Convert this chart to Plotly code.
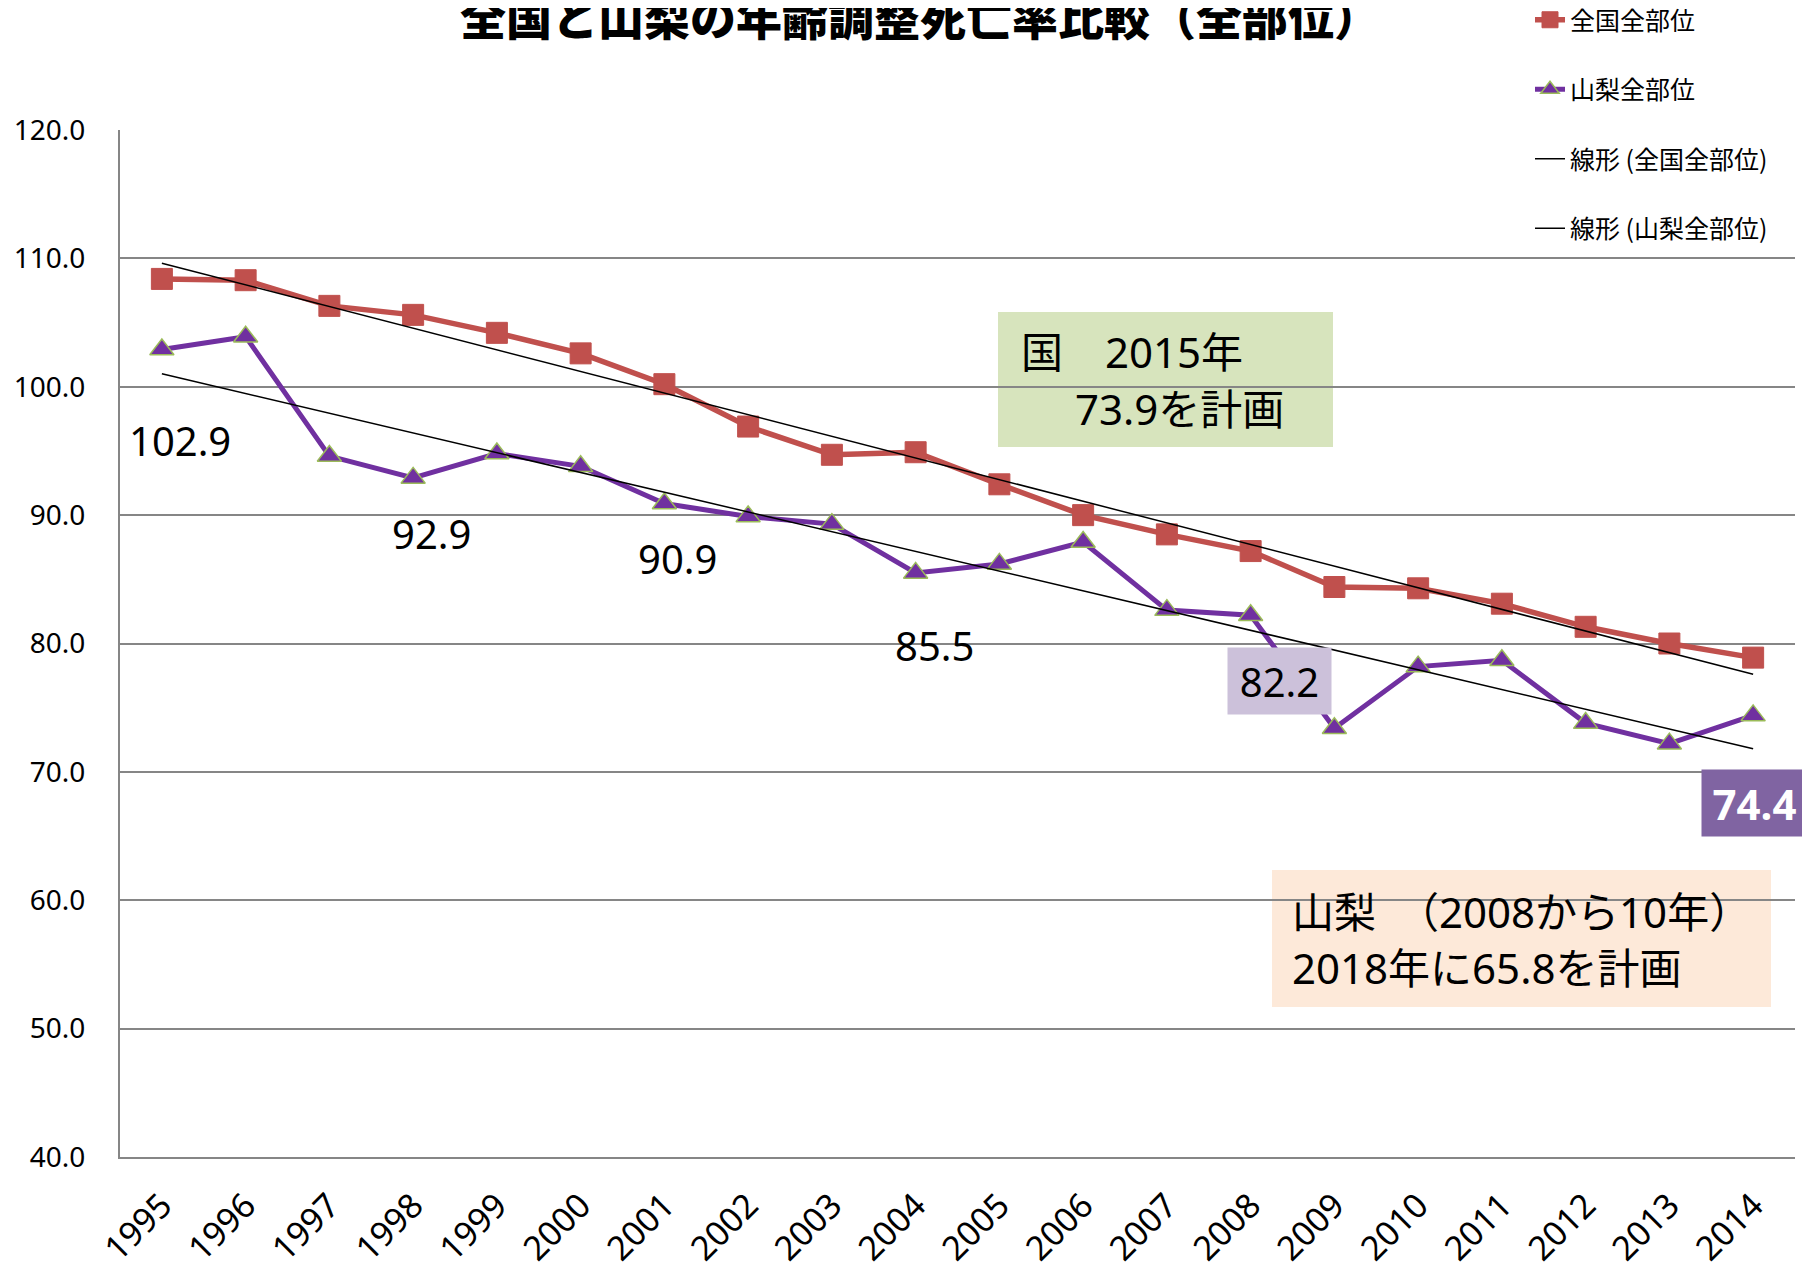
import numpy as np
import plotly.graph_objects as go

# ---------------- data ----------------
years = [str(y) for y in range(1995, 2015)]
national = [108.4, 108.3, 106.3, 105.6, 104.2, 102.6, 100.2, 96.9, 94.7, 94.9,
            92.4, 90.0, 88.5, 87.2, 84.4, 84.3, 83.1, 81.3, 80.0, 78.9]
yamanashi = [102.9, 103.9, 94.6, 92.9, 94.8, 93.8, 90.9, 89.9, 89.3, 85.5,
             86.2, 87.9, 82.6, 82.2, 73.4, 78.2, 78.7, 73.8, 72.2, 74.4]

name_nat = "全国全部位"
name_yam = "山梨全部位"
name_nat_tr = "線形 (全国全部位)"
name_yam_tr = "線形 (山梨全部位)"
title_text = "全国と山梨の年齢調整死亡率比較（全部位）"

y_ticks = [40, 50, 60, 70, 80, 90, 100, 110, 120]

# labelled Yamanashi points
label_years = ["1995", "1998", "2001", "2004", "2008", "2014"]

note_nat = ["国　2015年", "73.9を計画"]
note_yam = ["山梨　（2008から10年）", "2018年に65.8を計画"]

# ---------------- layout helpers ----------------
OFF = 8                      # default page body margin
W, H = 1810 - OFF, 1277 - OFF
ML, MR, MT, MB = 120 - OFF, 15, 130 - OFF, 120
PW, PH = W - ML - MR, H - MT - MB
X0, Y1 = ML + OFF, H + OFF - MB   # plot area in window pixels


def px(x):
    return (x - X0) / PW


def py(y):
    return (Y1 - y) / PH


# linear trends (least squares, like Excel)
idx = np.arange(len(years))
cn = np.polyfit(idx, national, 1)
cy = np.polyfit(idx, yamanashi, 1)
trend_nat = np.polyval(cn, idx)
trend_yam = np.polyval(cy, idx)

LATIN = "Noto Sans, Noto Sans CJK JP, sans-serif"
CJK = "Noto Sans CJK JP, Noto Sans, sans-serif"

fig = go.Figure()
fig.add_trace(go.Scatter(
    x=years, y=national, name=name_nat, mode="lines+markers",
    line=dict(color="#c0504d", width=5.5),
    marker=dict(symbol="square", size=21, color="#c0504d",
                line=dict(color="#c0504d", width=1)),
    legendgroup="a"))
fig.add_trace(go.Scatter(
    x=years, y=yamanashi, name=name_yam, mode="lines+markers",
    line=dict(color="#7030a0", width=5),
    marker=dict(symbol="triangle-up", size=21, color="#7030a0",
                line=dict(color="#9bbb59", width=1.5)),
    legendgroup="b"))
fig.add_trace(go.Scatter(
    x=years, y=trend_nat, name=name_nat_tr, mode="lines",
    line=dict(color="#000000", width=1.5), legendgroup="c"))
fig.add_trace(go.Scatter(
    x=years, y=trend_yam, name=name_yam_tr, mode="lines",
    line=dict(color="#000000", width=1.5), legendgroup="d"))

annotations = []
# value labels on the Yamanashi series
label_style = {
    "1995": dict(xshift=18, yshift=-91, bg=None),
    "1998": dict(xshift=18, yshift=-56, bg=None),
    "2001": dict(xshift=13, yshift=-55, bg=None),
    "2004": dict(xshift=19, yshift=-73, bg=None),
    "2008": dict(xshift=29, yshift=-66, bg="#ccc1da"),
    "2014": dict(xshift=1, yshift=-88, bg="#8064a2"),
}
for yr in label_years:
    i = years.index(yr)
    v = yamanashi[i]
    st = label_style[yr]
    a = dict(x=i, y=v, xref="x", yref="y", text=f"{v:.1f}", showarrow=False,
             xshift=st["xshift"], yshift=st["yshift"],
             xanchor="center", yanchor="middle",
             font=dict(family=LATIN, size=40, color="#000000"))
    if st["bg"] == "#ccc1da":
        a.update(bgcolor="#ccc1da", width=103, height=66, borderpad=0)
    elif st["bg"] == "#8064a2":
        a.update(bgcolor="#8064a2", width=105, height=66, borderpad=0,
                 font=dict(family=LATIN, size=42, color="#ffffff", weight="bold"))
    annotations.append(a)

shapes = [
    dict(type="rect", xref="paper", yref="paper", x0=px(998), x1=px(1333),
         y0=py(447), y1=py(312), fillcolor="#d7e4bd", line=dict(width=0), layer="below"),
    dict(type="rect", xref="paper", yref="paper", x0=px(1272), x1=px(1771),
         y0=py(1007), y1=py(870), fillcolor="#fde9d9", line=dict(width=0), layer="below"),
]

text_pos = [
    (note_nat[0], 1019, 351),
    (note_nat[1], 1073, 408),
    (note_yam[0], 1290, 911),
    (note_yam[1], 1290, 967),
]
for t, x, y in text_pos:
    annotations.append(dict(x=px(x), y=py(y), xref="paper", yref="paper", text=t,
                            showarrow=False, xanchor="left", yanchor="middle",
                            font=dict(family=LATIN, size=42, color="#000000")))

fig.update_layout(
    width=W, height=H,
    margin=dict(l=ML, r=MR, t=MT, b=MB, autoexpand=False),
    paper_bgcolor="#ffffff", plot_bgcolor="#ffffff",
    title=dict(text=title_text, x=(920 - OFF) / W, xanchor="center", xref="container",
               y=1 - 11 / H, yanchor="middle", yref="container",
               font=dict(family=CJK, size=46, color="#000000", weight=900)),
    showlegend=True,
    legend=dict(x=px(1530), xanchor="left", xref="paper",
                y=py(-3), yanchor="top", yref="paper",
                bgcolor="rgba(0,0,0,0)", traceorder="grouped", tracegroupgap=34,
                font=dict(family=CJK, size=25, color="#000000")),
    xaxis=dict(type="category", categoryorder="array", categoryarray=years,
               range=[-0.5, len(years) - 0.5], tickangle=-45, automargin=False,
               showgrid=False, showline=True, linecolor="#868686", linewidth=2,
               ticks="", ticklabelstandoff=13,
               tickfont=dict(family=LATIN, size=34, color="#000000")),
    yaxis=dict(range=[40, 120], tickvals=y_ticks, tickformat=".1f", automargin=False,
               showgrid=True, gridcolor="#868686", gridwidth=1.5,
               showline=True, linecolor="#868686", linewidth=2,
               zeroline=False, ticks="", ticklabelstandoff=27,
               tickfont=dict(family=LATIN, size=28, color="#000000")),
    annotations=annotations,
    shapes=shapes,
)

fig.write_html("out.html")
